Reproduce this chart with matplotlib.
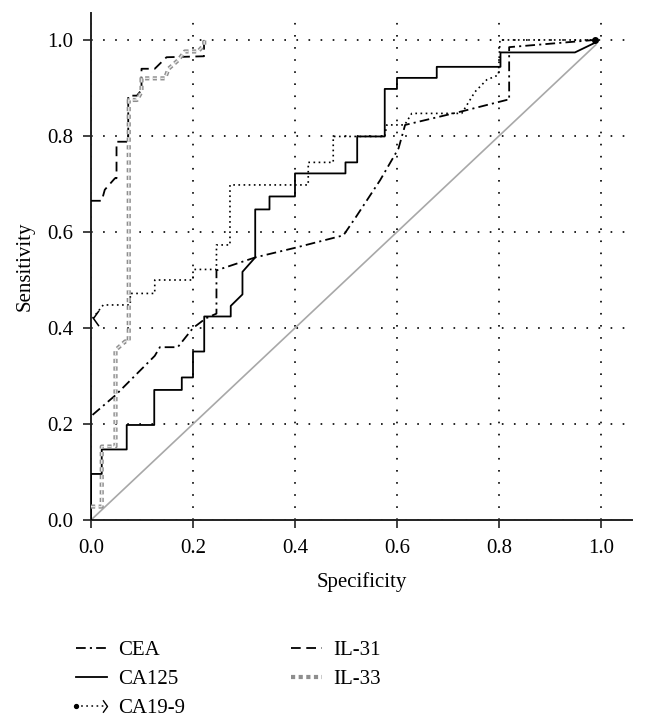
import matplotlib
matplotlib.use("Agg")
import matplotlib.pyplot as plt
from matplotlib.lines import Line2D
from matplotlib.path import Path
from matplotlib.legend_handler import HandlerBase

plt.rcParams['font.family'] = ['Liberation Serif', 'DejaVu Serif']
plt.rcParams['lines.scale_dashes'] = False

# ROC curves (x = "Specificity" axis, y = Sensitivity)
cea_x = [0.003, 0.048, 0.125, 0.135, 0.17, 0.2, 0.225, 0.246, 0.246, 0.322, 0.4, 0.495,
         0.52, 0.567, 0.603, 0.616, 0.73, 0.815, 0.82, 0.82, 0.988]
cea_y = [0.219, 0.26, 0.342, 0.36, 0.36, 0.4, 0.42, 0.43, 0.52, 0.547, 0.567, 0.593,
         0.632, 0.708, 0.774, 0.823, 0.852, 0.875, 0.875, 0.985, 1.0]

ca125_x = [0.0, 0.0, 0.021, 0.021, 0.07, 0.07, 0.124, 0.124, 0.178, 0.178, 0.2, 0.2,
           0.222, 0.222, 0.274, 0.274, 0.297, 0.297, 0.322, 0.322, 0.35, 0.35, 0.4, 0.4,
           0.499, 0.499, 0.522, 0.522, 0.576, 0.576, 0.6, 0.6, 0.678, 0.678, 0.803, 0.803,
           0.949, 0.988]
ca125_y = [0.0, 0.096, 0.096, 0.147, 0.147, 0.198, 0.198, 0.271, 0.271, 0.297, 0.297, 0.351,
           0.351, 0.424, 0.424, 0.446, 0.47, 0.517, 0.547, 0.647, 0.647, 0.674, 0.674, 0.722,
           0.722, 0.745, 0.745, 0.799, 0.799, 0.898, 0.898, 0.921, 0.921, 0.944, 0.944, 0.974,
           0.974, 0.994]

ca199_x = [0.003, 0.024, 0.077, 0.077, 0.125, 0.125, 0.2, 0.2, 0.246, 0.246, 0.2725, 0.2725,
           0.426, 0.426, 0.475, 0.475, 0.576, 0.58, 0.615, 0.629, 0.727, 0.753, 0.776, 0.799,
           0.802, 0.988]
ca199_y = [0.42, 0.448, 0.448, 0.472, 0.472, 0.5, 0.5, 0.522, 0.522, 0.573, 0.573, 0.698,
           0.698, 0.745, 0.745, 0.799, 0.799, 0.823, 0.823, 0.847, 0.847, 0.892, 0.917, 0.927,
           1.0, 1.0]

il31_x = [0.0, 0.021, 0.027, 0.047, 0.05, 0.05, 0.073, 0.073, 0.09, 0.099, 0.099, 0.125,
          0.148, 0.2216, 0.2216]
il31_y = [0.665, 0.665, 0.688, 0.712, 0.712, 0.788, 0.788, 0.884, 0.884, 0.896, 0.94, 0.94,
          0.964, 0.966, 1.0]

il33_x = [0.0, 0.021, 0.021, 0.048, 0.048, 0.067, 0.074, 0.074, 0.09, 0.099, 0.099, 0.145,
          0.152, 0.171, 0.184, 0.21, 0.222, 0.222]
il33_y = [0.028, 0.028, 0.153, 0.153, 0.354, 0.372, 0.372, 0.875, 0.875, 0.892, 0.92, 0.92,
          0.94, 0.958, 0.976, 0.976, 0.99, 1.0]

ref_line = [0.0, 0.99]
ticks = [0.0, 0.2, 0.4, 0.6, 0.8, 1.0]

# open chevrons, tip at the marker centre
codes = [Path.MOVETO, Path.LINETO, Path.LINETO]
chevron_left = Path([(1.0, 1.4), (0.0, 0.0), (1.0, -1.4)], codes)
chevron_right = Path([(-1.0, 1.4), (0.0, 0.0), (-1.0, -1.4)], codes)


class HandlerDotArrow(HandlerBase):
    # dotted line with a dot at the start and an open arrow at the end
    def create_artists(self, legend, orig_handle, xdescent, ydescent,
                       width, height, fontsize, trans):
        y = height / 2.0 - ydescent
        x0, x1 = -xdescent, width - xdescent
        line = Line2D([x0, x1], [y, y], color='black', lw=1.1, dashes=(1.2, 2.5))
        dot = Line2D([x0], [y], marker='o', ms=2.8, color='black', lw=0)
        head = Line2D([x1], [y], marker=chevron_right, ms=9, mfc='none', mec='black',
                      mew=1.0, lw=0)
        for a in (line, dot, head):
            a.set_transform(trans)
        return [line, dot, head]


fig = plt.figure(figsize=(6.46, 7.26), dpi=100)
ax = fig.add_axes([0.1409, 0.2837, 0.8375, 0.6983])

ax.plot(ref_line, ref_line, color='#a8a8a8', lw=1.2, zorder=2)

h_cea, = ax.plot(cea_x, cea_y, color='black', lw=1.3, dashes=(7, 3, 1.5, 3), label='CEA', zorder=3)
h_ca125, = ax.plot(ca125_x, ca125_y, color='black', lw=1.3, label='CA125', zorder=3)
h_ca199, = ax.plot(ca199_x, ca199_y, color='black', lw=1.2, dashes=(1.2, 2.5), label='CA19-9', zorder=3)
ax.plot(ca199_x[:1], ca199_y[:1], marker=chevron_left, ms=11, mfc='none', mec='black',
        mew=1.1, lw=0, zorder=4)
ax.plot(ca199_x[-1:], ca199_y[-1:], marker='o', ms=4, color='black', lw=0, zorder=4)
h_il31, = ax.plot(il31_x, il31_y, color='black', lw=1.3, dashes=(7, 4), label='IL-31', zorder=3)
ax.plot(il33_x, il33_y, color='#8e8e8e', lw=3.0, dashes=(3, 2.5), zorder=3)
ax.plot(il33_x, il33_y, color='#e6e6e6', lw=1.0, dashes=(3, 2.5), zorder=3)
h_il33 = Line2D([], [], color='#8e8e8e', lw=3.0, dashes=(3, 2.5))

ax.set_xlim(0, 1.061)
ax.set_ylim(0, 1.056)
ax.set_xticks(ticks)
ax.set_yticks(ticks)
ax.set_xticklabels(['%.1f' % t for t in ticks])
ax.set_yticklabels(['%.1f' % t for t in ticks])
ax.tick_params(direction='out', length=6, width=1.2, labelsize=15, color='#222222')
ax.tick_params(axis='x', pad=8)
ax.tick_params(axis='y', pad=7)
for s in ('top', 'right'):
    ax.spines[s].set_visible(False)
for s in ('left', 'bottom'):
    ax.spines[s].set_linewidth(1.4)
    ax.spines[s].set_color('#222222')
ax.grid(True, color='black', lw=1.2, linestyle=(0, (1.2, 7.5)))
ax.set_axisbelow(True)

ax.set_xlabel('Specificity', fontsize=15, labelpad=10)
ax.set_ylabel('Sensitivity', fontsize=15, labelpad=9)

fig.legend([h_cea, h_ca125, h_ca199, h_il31, h_il33],
           ['CEA', 'CA125', 'CA19-9', 'IL-31', 'IL-33'],
           loc='upper left', bbox_to_anchor=(0.118, 0.118), ncol=2, frameon=False,
           fontsize=15, handlelength=1.5, handletextpad=0.5, columnspacing=5.1,
           labelspacing=0.45, borderpad=0, borderaxespad=0,
           handler_map={h_ca199: HandlerDotArrow()})

fig.savefig('out.png', dpi=100)
